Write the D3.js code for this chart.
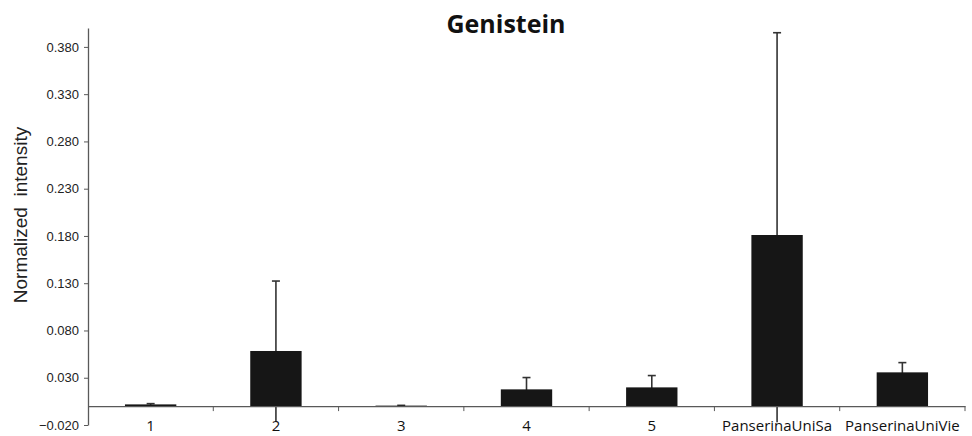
<!DOCTYPE html>
<html>
<head>
<meta charset="utf-8">
<script src="https://cdn.jsdelivr.net/npm/d3@7"></script>
<style>
  body { margin: 0; background: #fff; }
  svg { display: block; }
</style>
</head>
<body>
<div id="chart"></div>
<script>
const categories = ["1", "2", "3", "4", "5", "PanserinaUniSa", "PanserinaUniVie"]
const values = [0.0018, 0.0583, 0.0005, 0.0177, 0.0198, 0.181, 0.0357]
const errors = [0.0008, 0.074, 0.0003, 0.0125, 0.0125, 0.214, 0.0103]
const yTicks = [-0.02, 0.03, 0.08, 0.13, 0.18, 0.23, 0.28, 0.33, 0.38]

const width = 972, height = 436
const margin = {top: 28, right: 7, bottom: 11, left: 88}

const svg = d3.select("#chart").append("svg")
  .attr("width", width)
  .attr("height", height)
  .attr("viewBox", [0, 0, width, height])

const x = d3.scaleBand()
  .domain(categories)
  .range([margin.left, width - margin.right])
  .paddingInner(0)

const y = d3.scaleLinear()
  .domain([-0.02, 0.40])
  .range([height - margin.bottom, margin.top])

const barWidth = x.bandwidth() * 0.41
const axisColor = "#595959"

// y axis
const yAxis = g => g
  .attr("transform", `translate(${margin.left},0)`)
  .call(d3.axisLeft(y).tickValues(yTicks).tickFormat(d3.format(".3f")).tickSize(4).tickSizeOuter(0))
  .call(g => g.select(".domain").attr("stroke", axisColor).attr("stroke-width", 1.3))
  .call(g => g.selectAll(".tick line").attr("stroke", axisColor))
  .call(g => g.selectAll(".tick text")
    .attr("x", -9)
    .attr("fill", "#222")
    .attr("font-size", 13)
    .attr("font-family", "Liberation Sans, Arial, sans-serif"))

svg.append("g").call(yAxis)

// error bars (drawn under the bars, so the lower half hides behind them)
const lo = i => Math.max(values[i] - errors[i], -0.017)
const err = svg.append("g")
  .attr("stroke", "#333")
  .attr("stroke-width", 1.6)
  .selectAll("g")
  .data(categories)
  .join("g")
    .attr("transform", d => `translate(${x(d) + x.bandwidth() / 2},0)`)

err.append("line")
  .attr("y1", (d, i) => y(lo(i)))
  .attr("y2", (d, i) => y(values[i] + errors[i]))

err.append("line")
  .attr("x1", -4).attr("x2", 4)
  .attr("y1", (d, i) => y(values[i] + errors[i]))
  .attr("y2", (d, i) => y(values[i] + errors[i]))

// bars
svg.append("g")
  .selectAll("rect")
  .data(categories)
  .join("rect")
    .attr("fill", "#161616")
    .attr("x", d => x(d) + (x.bandwidth() - barWidth) / 2)
    .attr("y", (d, i) => y(values[i]))
    .attr("width", barWidth)
    .attr("height", (d, i) => y(0) - y(values[i]))

// x axis at zero
const xAxis = g => g
  .attr("transform", `translate(0,${y(0)})`)
  .call(d3.axisBottom(x).tickSize(0).tickSizeOuter(0))
  .call(g => g.select(".domain").attr("stroke", axisColor).attr("stroke-width", 1.3))
  .call(g => g.selectAll(".tick text")
    .attr("y", 0)
    .attr("dy", 25)
    .attr("fill", "#111")
    .attr("font-size", 15)
    .attr("font-family", "Open Sans, sans-serif"))

const gx = svg.append("g").call(xAxis)

gx.selectAll(".sep")
  .data(categories)
  .join("line")
    .attr("class", "sep")
    .attr("stroke", axisColor)
    .attr("x1", d => x(d) + x.bandwidth())
    .attr("x2", d => x(d) + x.bandwidth())
    .attr("y1", 0)
    .attr("y2", 5)

// title
svg.append("text")
  .attr("x", 506)
  .attr("y", 33)
  .attr("text-anchor", "middle")
  .attr("font-family", "Open Sans, sans-serif")
  .attr("font-weight", "bold")
  .attr("font-size", 25)
  .attr("fill", "#111")
  .text("Genistein")

// y axis title
svg.append("text")
  .attr("transform", `translate(27,215) rotate(-90)`)
  .attr("text-anchor", "middle")
  .attr("font-family", "Liberation Sans, Arial, sans-serif")
  .attr("font-size", 19)
  .attr("fill", "#222")
  .attr("xml:space", "preserve")
  .text("Normalized  intensity")
</script>
</body>
</html>
